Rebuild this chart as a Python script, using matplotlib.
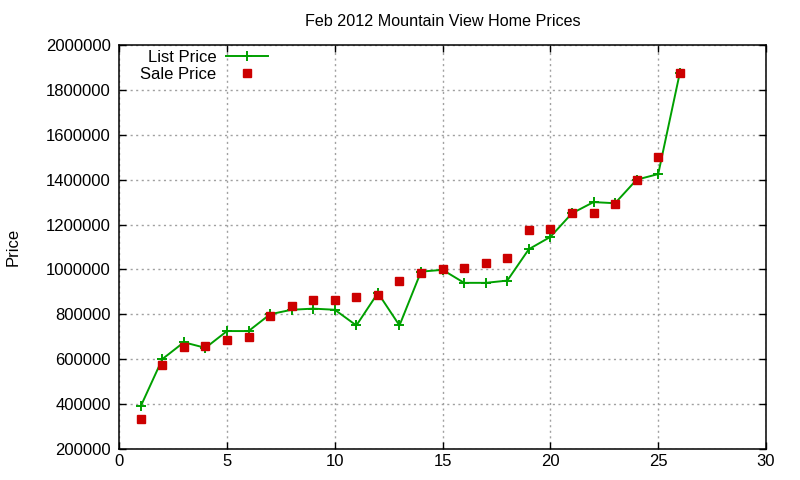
import matplotlib
matplotlib.use("Agg")
import matplotlib.pyplot as plt

plt.rcParams['font.family'] = ['Liberation Sans', 'DejaVu Sans']

# house number in the list (sorted by price)
house = list(range(1, 27))
list_price = [390000, 600000, 675000, 650000, 725000, 725000, 800000, 820000, 825000, 820000,
              750000, 895000, 750000, 990000, 998000, 940000, 940000, 950000, 1090000, 1145000,
              1250000, 1300000, 1295000, 1400000, 1425000, 1875000]
sale_price = [335000, 575000, 655000, 660000, 685000, 700000, 790000, 835000, 865000, 865000,
              875000, 885000, 950000, 985000, 1000000, 1005000, 1030000, 1050000, 1175000, 1180000,
              1250000, 1250000, 1290000, 1400000, 1500000, 1875000]

fig = plt.figure(figsize=(8, 4.8), dpi=100)
ax = fig.add_axes([0.149, 0.065, 0.8085, 0.841])

ax.plot(house, list_price, color='#00a000', lw=1.4, marker='+', ms=7, mew=1.4, label='List Price')
ax.plot(house, sale_price, ls='none', color='#cc0000', marker='s', ms=5.8, label='Sale Price')

ax.set_xlim(0, 30)
ax.set_ylim(200000, 2000000)
ax.set_xticks(range(0, 31, 5))
ax.set_yticks(range(200000, 2000001, 200000))
ax.ticklabel_format(style='plain', axis='y')
ax.tick_params(direction='in', top=True, right=True, labelsize=12, length=5, width=1)
ax.tick_params(axis='y', pad=6)
ax.grid(True, color='#a0a0a0', ls=(0, (1.5, 2.5)), lw=1)
for s in ax.spines.values():
    s.set_linewidth(1.1)

ax.set_title('Feb 2012 Mountain View Home Prices', fontsize=11.6, pad=14)
ax.set_ylabel('Price', fontsize=12, labelpad=18)

leg = ax.legend(loc='upper left', bbox_to_anchor=(0.017, 1.013), frameon=False, markerfirst=False,
                fontsize=12, handlelength=2.5, handletextpad=0.6, labelspacing=0.1,
                borderaxespad=0.2)
for t in leg.get_texts():
    t.set_ha('right')

fig.savefig('out.png')
